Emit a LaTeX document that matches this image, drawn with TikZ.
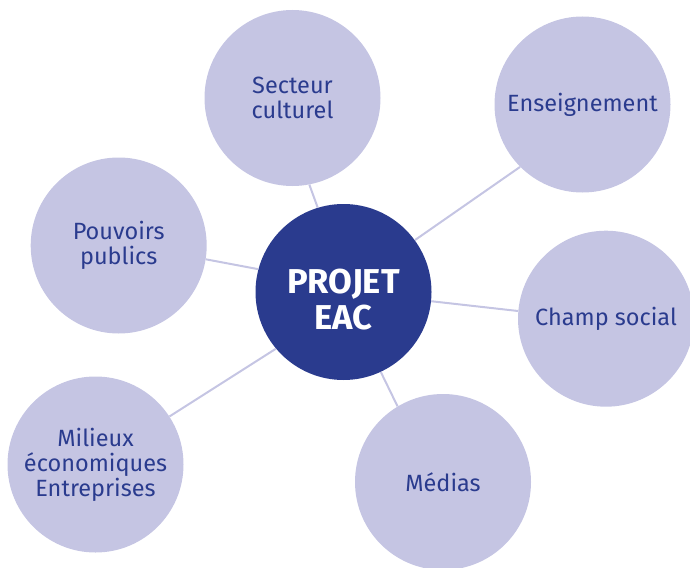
\documentclass[tikz,border=0pt]{standalone}
\usepackage{fontspec}
\setmainfont{Fira Sans}
\usepackage{tikz}

\definecolor{eacblue}{HTML}{2A3B8E}
\definecolor{eaclilac}{HTML}{C5C5E3}

\begin{document}
\begin{tikzpicture}[
      x=1pt, y=-1pt,
      partner/.style={circle,fill=eaclilac,text=eacblue,minimum size=176pt,inner sep=0pt,
        align=center,font=\fontsize{23.5}{25}\selectfont},
      project/.style={circle,fill=eacblue,minimum size=176pt,inner sep=0pt},
      title/.style={text=white,align=center,yshift=-8pt,
        font=\fontsize{34.5}{36}\selectfont\bfseries},
      link/.style={eaclilac,line width=2pt}
    ]
    \useasboundingbox (0,0) rectangle (690,567);
    \clip (0,0) rectangle (690,567);
    % Draw the partners.
    \node[partner] (culture) at (292.5,98) {Secteur\\culturel};
    \node[partner] (school) at (582.5,104.5) {Enseignement};
    \node[partner] (public) at (118.7,245.5) {Pouvoirs\\publics};
    \node[partner] (social) at (606,318.7) {Champ social};
    \node[partner] (economy) at (95.5,464.5) {Milieux\\économiques\\Entreprises};
    \node[partner] (media) at (443,482) {Médias};
    % Draw the project.
    \node[project,label={[title]center:{PROJET\\EAC}}] (eac) at (343.5,292) {};
    % Draw the links.
    \draw[link] (eac.107) -- (culture.281);
    \draw[link] (eac.36) -- (school.225);
    \draw[link] (eac.165) -- (public.-9);
    \draw[link] (eac.-6) -- (social.175);
    \draw[link] (eac.220) -- (economy.33);
    \draw[link] (eac.-65) -- (media.121);
\end{tikzpicture}
\end{document}
